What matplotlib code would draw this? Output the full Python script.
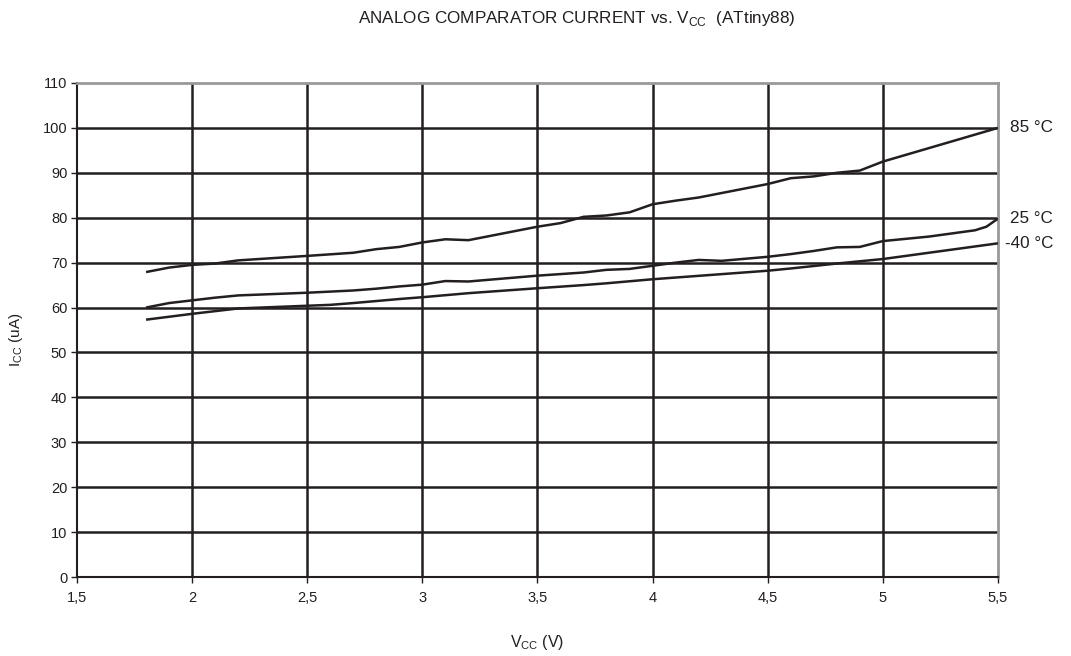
import numpy as np
import matplotlib.pyplot as plt

plt.rcParams['font.family'] = ['Liberation Sans', 'DejaVu Sans']

# data
vcc_85 = [1.8, 1.9, 2.0, 2.1, 2.2, 2.5, 2.7, 2.8, 2.9, 3.0, 3.1, 3.2, 3.3, 3.4, 3.5,
          3.6, 3.7, 3.8, 3.9, 4.0, 4.1, 4.2, 4.3, 4.4, 4.5, 4.6, 4.7, 4.8, 4.9, 5.0, 5.5]
icc_85 = [67.9, 68.9, 69.5, 69.8, 70.5, 71.5, 72.2, 73.0, 73.5, 74.5, 75.2, 75.0, 76.0,
          77.0, 78.0, 78.8, 80.2, 80.5, 81.2, 83.0, 83.8, 84.5, 85.5, 86.5, 87.5, 88.8,
          89.2, 90.0, 90.5, 92.5, 100.0]

vcc_25 = [1.8, 1.9, 2.0, 2.1, 2.2, 2.5, 2.7, 2.8, 2.9, 3.0, 3.1, 3.2, 3.5, 3.7, 3.8,
          3.9, 4.0, 4.1, 4.2, 4.3, 4.5, 4.6, 4.7, 4.8, 4.9, 5.0, 5.2, 5.4, 5.45, 5.5]
icc_25 = [60.0, 61.0, 61.6, 62.2, 62.7, 63.3, 63.8, 64.2, 64.7, 65.1, 65.9, 65.8, 67.1,
          67.8, 68.4, 68.6, 69.3, 70.0, 70.6, 70.4, 71.3, 71.9, 72.6, 73.4, 73.5, 74.8,
          75.8, 77.2, 78.0, 79.8]

vcc_m40 = [1.8, 2.0, 2.2, 2.5, 2.6, 2.7, 2.9, 3.0, 3.2, 3.5, 3.7, 3.8, 4.0, 4.5, 4.6,
           4.8, 5.0, 5.5]
icc_m40 = [57.3, 58.6, 59.8, 60.4, 60.6, 61.0, 61.9, 62.3, 63.2, 64.3, 65.0, 65.4, 66.3,
           68.2, 68.7, 69.8, 70.8, 74.3]

series = [(vcc_85, icc_85, "85 °C", 8.5),
          (vcc_25, icc_25, "25 °C", 8.5),
          (vcc_m40, icc_m40, "-40 °C", 5)]

x_ticks = [1.5, 2, 2.5, 3, 3.5, 4, 4.5, 5, 5.5]
x_ticklabels = ["1,5", "2", "2,5", "3", "3,5", "4", "4,5", "5", "5,5"]

fig = plt.figure(figsize=(10.71, 6.56), dpi=100)
ax = fig.add_axes([0.0719, 0.1204, 0.8599, 0.7531])

for v in x_ticks[1:-1]:
    ax.axvline(v, color="#231f20", lw=1.8, zorder=1)
for h in range(10, 101, 10):
    ax.axhline(h, color="#231f20", lw=1.8, zorder=1)

for xs, ys, lab, off in series:
    ax.plot(xs, ys, color="#231f20", lw=1.8, zorder=3, solid_capstyle="butt")
    ax.annotate(lab, xy=(xs[-1], ys[-1]), xytext=(off, 0),
                textcoords="offset points", va="center", ha="left",
                fontsize=12.3, color="#231f20", annotation_clip=False)

ax.set_xlim(1.5, 5.5)
ax.set_ylim(0, 110)
ax.set_xticks(x_ticks)
ax.set_xticklabels(x_ticklabels)
ax.set_yticks(range(0, 111, 10))
ax.tick_params(direction="out", length=4, width=1, color="#231f20",
               labelsize=10.5, labelcolor="#231f20", pad=3)
ax.tick_params(axis="x", pad=6)

ax.spines["top"].set_color("#999999")
ax.spines["top"].set_linewidth(2)
ax.spines["left"].set_color("#231f20")
ax.spines["bottom"].set_color("#231f20")
ax.spines["left"].set_linewidth(1.5)
ax.spines["bottom"].set_linewidth(1.5)
ax.spines["right"].set_color("#999999")
ax.spines["right"].set_linewidth(2)

ax.set_xlabel("V$_{\\mathregular{CC}}$ (V)", fontsize=11.5, color="#231f20", labelpad=20)
ax.set_ylabel("I$_{\\mathregular{CC}}$ (uA)", fontsize=11, color="#231f20")
ax.yaxis.set_label_coords(-0.057, 0.48)

fig.text(0.539, 0.972, "ANALOG COMPARATOR CURRENT vs. V$_{\\mathregular{CC}}$  (ATtiny88)",
         ha="center", va="center", fontsize=12.3, color="#231f20")

fig.savefig("out.png", dpi=100)
